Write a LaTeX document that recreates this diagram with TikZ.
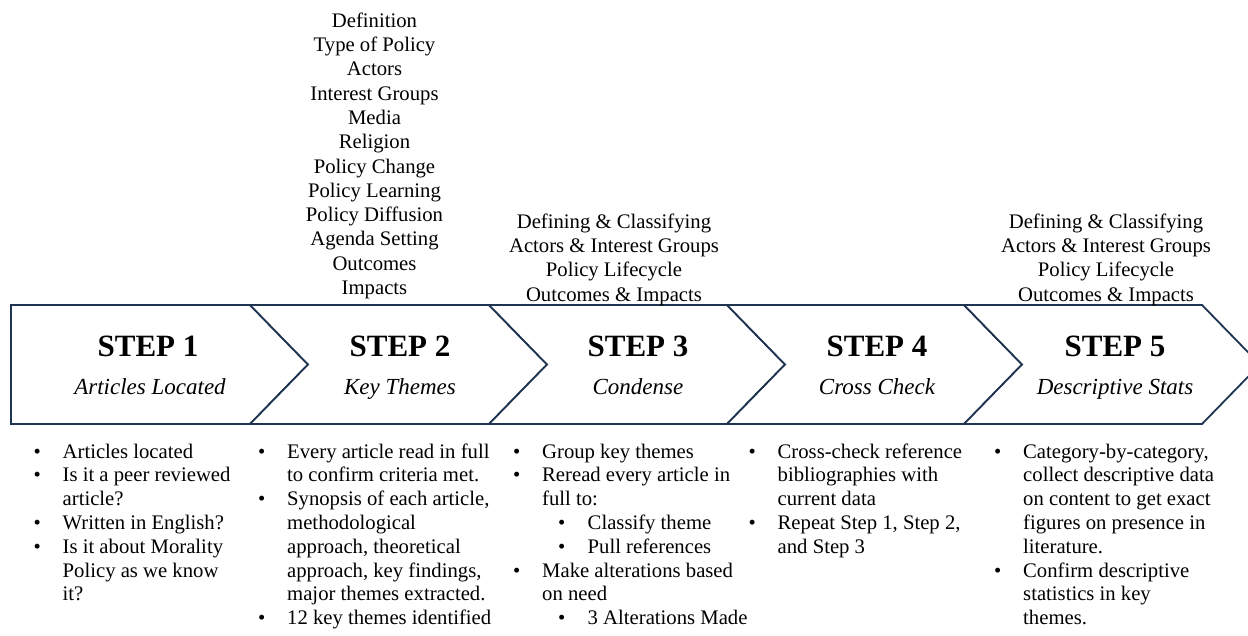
\documentclass[tikz,border=0pt]{standalone}
\usepackage{fontspec}
\setmainfont{Liberation Serif}
\definecolor{navy}{HTML}{1E3450}
\newcommand\bu{\makebox[29pt][l]{•}}
\newcommand\ct{\hspace*{29pt}}
\newcommand\sbu{\hspace*{45pt}\makebox[29.5pt][l]{•}}
\tikzset{
 chev/.style={draw=navy, line width=1.8pt, fill=white, line join=miter},
 steptitle/.style={font=\fontsize{31}{31}\selectfont\bfseries, anchor=base, inner sep=0pt},
 stepsub/.style={font=\fontsize{23}{23}\selectfont\itshape, anchor=base, inner sep=0pt},
 toplist/.style={font=\fontsize{20.7}{24.3}\selectfont, anchor=north, inner sep=0pt},
 bullets/.style={font=\fontsize{20.7}{23.8}\selectfont, anchor=north west, inner sep=0pt},
}
\begin{document}
\begin{tikzpicture}[x=1pt,y=-1pt]
\useasboundingbox (0,0) rectangle (1248,636);
% chevrons
\draw[chev] (11,305) -- (250,305) -- (308,364.5) -- (250,424) -- (11,424) -- cycle;
\draw[chev] (250,305) -- (489,305) -- (547,364.5) -- (489,424) -- (250,424) -- (308,364.5) -- cycle;
\draw[chev] (489,305) -- (727,305) -- (785,364.5) -- (727,424) -- (489,424) -- (547,364.5) -- cycle;
\draw[chev] (727,305) -- (964,305) -- (1022,364.5) -- (964,424) -- (727,424) -- (785,364.5) -- cycle;
\draw[chev] (964,305) -- (1202,305) -- (1260,364.5) -- (1202,424) -- (964,424) -- (1022,364.5) -- cycle;
% step titles
\node[steptitle] (s1) at (148,356) {STEP 1};
\node[steptitle] (s2) at (400,356) {STEP 2};
\node[steptitle] (s3) at (638,356) {STEP 3};
\node[steptitle] (s4) at (877,356) {STEP 4};
\node[steptitle] (s5) at (1115,356) {STEP 5};
\node[stepsub] (u1) at (150,394.5) {Articles Located};
\node[stepsub] (u2) at (400,394.5) {Key Themes};
\node[stepsub] (u3) at (638,394.5) {Condense};
\node[stepsub] (u4) at (877,394.5) {Cross Check};
\node[stepsub] (u5) at (1115,394.5) {Descriptive Stats};
% top lists
\node[toplist] (t2) at (374.5,10) {\begin{tabular}{@{}c@{}}Definition\\Type of Policy\\Actors\\Interest Groups\\Media\\Religion\\Policy Change\\Policy Learning\\Policy Diffusion\\Agenda Setting\\Outcomes\\Impacts\end{tabular}};
\node[toplist] (t3) at (614,211) {\begin{tabular}{@{}c@{}}Defining \& Classifying\\Actors \& Interest Groups\\Policy Lifecycle\\Outcomes \& Impacts\end{tabular}};
\node[toplist] (t5) at (1106,211) {\begin{tabular}{@{}c@{}}Defining \& Classifying\\Actors \& Interest Groups\\Policy Lifecycle\\Outcomes \& Impacts\end{tabular}};
% bullet lists
\node[bullets] (b1) at (33.5,441.3) {\begin{tabular}{@{}l@{}}\bu Articles located\\\bu Is it a peer reviewed\\\ct article?\\\bu Written in English?\\\bu Is it about Morality\\\ct Policy as we know\\\ct it?\end{tabular}};
\node[bullets] (b2) at (258,441.3) {\begin{tabular}{@{}l@{}}\bu Every article read in full\\\ct to confirm criteria met.\\\bu Synopsis of each article,\\\ct methodological\\\ct approach, theoretical\\\ct approach, key findings,\\\ct major themes extracted.\\\bu 12 key themes identified\end{tabular}};
\node[bullets] (b3) at (513,441.3) {\begin{tabular}{@{}l@{}}\bu Group key themes\\\bu Reread every article in\\\ct full to:\\\sbu Classify theme\\\sbu Pull references\\\bu Make alterations based\\\ct on need\\\sbu 3 Alterations Made\end{tabular}};
\node[bullets] (b4) at (748.5,441.3) {\begin{tabular}{@{}l@{}}\bu Cross-check reference\\\ct bibliographies with\\\ct current data\\\bu Repeat Step 1, Step 2,\\\ct and Step 3\end{tabular}};
\node[bullets] (b5) at (994,441.3) {\begin{tabular}{@{}l@{}}\bu Category-by-category,\\\ct collect descriptive data\\\ct on content to get exact\\\ct figures on presence in\\\ct literature.\\\bu Confirm descriptive\\\ct statistics in key\\\ct themes.\end{tabular}};
\end{tikzpicture}
\end{document}
